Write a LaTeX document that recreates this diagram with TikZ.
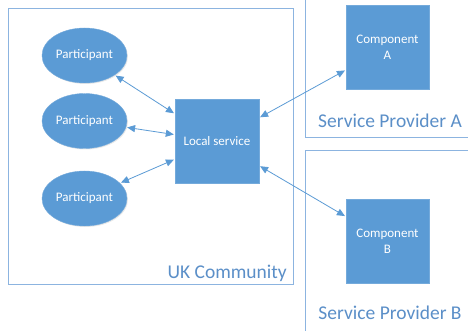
\documentclass[tikz,border=0pt]{standalone}
\usepackage{fontspec}
\setmainfont{Carlito}
\usetikzlibrary{shapes.geometric,arrows.meta,shadows}
\definecolor{ofblue}{HTML}{5B9BD5}
\definecolor{boxline}{HTML}{8CB4E0}
\definecolor{labtext}{HTML}{5B8FC8}
\tikzset{
  part/.style={ellipse, fill=ofblue, draw=ofblue!85!white, line width=0.4pt, minimum width=85pt, minimum height=55pt, inner sep=0pt, text=white, font=\fontsize{13}{16}\selectfont, drop shadow={opacity=0.18, shadow xshift=1pt, shadow yshift=-1pt}},
  sqbox/.style={rectangle, fill=ofblue, draw=ofblue!85!white, line width=0.4pt, minimum width=83pt, minimum height=84pt, inner sep=0pt, text=white, align=center, font=\fontsize{13}{16}\selectfont, drop shadow={opacity=0.18, shadow xshift=1pt, shadow yshift=-1pt}},
  area/.style={draw=boxline, line width=0.9pt},
  arealabel/.style={text=labtext, font=\fontsize{19.5}{22}\selectfont, inner sep=0pt},
  link/.style={draw=ofblue, line width=0.8pt, {Triangle[length=8pt,width=7pt]}-{Triangle[length=8pt,width=7pt]}, shorten <=1pt, shorten >=1pt}
}
\begin{document}
\begin{tikzpicture}[x=1pt,y=-1pt]
\useasboundingbox (0,0) rectangle (468,331);
\clip (0,0) rectangle (468,331);
\fill[white] (0,0) rectangle (468,331);
% areas
\draw[area] (8,8) rectangle (293,284);
\draw[area] (305,-5) rectangle (475,137);
\draw[area] (305,340) -- (305,150) -- (475,150);
\node[arealabel, anchor=base east] (ukl) at (287,278) {UK Community};
\node[arealabel] (spal) at (390,121) {Service Provider A};
\node[arealabel] (spbl) at (390,313) {Service Provider B};
% nodes
\node[part] (p1) at (84.5,55.5) {Participant};
\node[part] (p2) at (84.5,121) {Participant};
\node[part] (p3) at (84.5,198.5) {Participant};
\node[sqbox, minimum width=84pt] (ls) at (217,141) {Local service};
\node[sqbox] (ca) at (387.5,47) {Component\\A};
\node[sqbox] (cb) at (387.5,241) {Component\\B};
% connectors
\draw[link] (p1) -- (ls);
\draw[link] (p2) -- (ls);
\draw[link] (p3) -- (ls);
\draw[link] (ls) -- (ca);
\draw[link] (ls) -- (cb);
\end{tikzpicture}
\end{document}
